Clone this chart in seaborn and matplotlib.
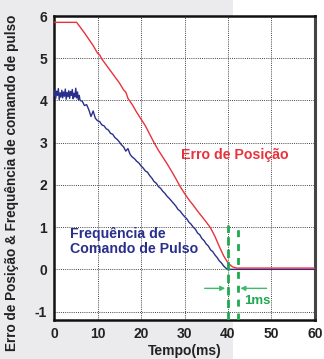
import numpy as np
import pandas as pd
import matplotlib
matplotlib.use("Agg")
import matplotlib.pyplot as plt
import seaborn as sns
from matplotlib.patches import Rectangle

# ---- data ----
red_t = [0, 5.2, 6, 7, 8, 9, 10, 10.5, 11, 12, 13, 14, 15, 16, 16.5, 17, 18, 19, 20, 21, 22,
         23, 24, 25, 26, 27, 28, 29, 30, 31, 32, 33, 34, 35, 36, 37, 38, 39, 40, 41, 42, 60]
red_v = [5.85, 5.85, 5.74, 5.60, 5.45, 5.30, 5.12, 5.08, 4.98, 4.84, 4.70, 4.56, 4.42, 4.25, 4.20,
         4.05, 3.90, 3.72, 3.56, 3.40, 3.20, 3.00, 2.82, 2.66, 2.50, 2.33, 2.15, 1.96, 1.80, 1.65,
         1.52, 1.38, 1.25, 1.12, 0.98, 0.78, 0.54, 0.32, 0.15, 0.06, 0.03, 0.03]

blue_t = [0.0, 0.2, 0.4, 0.6, 0.8, 1.0, 1.2, 1.4, 1.6, 1.8, 2.0, 2.2, 2.4, 2.6, 2.8, 3.0, 3.2, 3.4,
          3.6, 3.8, 4.0, 4.2, 4.4, 4.6, 4.8, 5.0, 5.2, 5.4, 5.6, 5.8,
          6.0, 6.5, 7.0, 7.5, 8.0, 8.5, 9.0, 9.5, 10.0, 10.5, 11.0, 11.5, 12.0, 12.5, 13.0, 13.5,
          14.0, 14.5, 15.0, 15.5, 16.0, 16.5, 17.0, 17.5, 18.0, 18.5, 19.0, 19.5, 20.0, 20.5,
          21.0, 21.5, 22.0, 22.5, 23.0, 23.5, 24.0, 24.5, 25.0, 25.5, 26.0, 26.5, 27.0, 27.5,
          28.0, 28.5, 29.0, 29.5, 30.0, 30.5, 31.0, 31.5, 32.0, 32.5, 33.0, 33.5, 34.0, 34.5,
          35.0, 35.5, 36.0, 36.5, 37.0, 37.5, 38.0, 38.5, 39.0, 39.5, 40.0, 60.0]
blue_v = [4.10, 4.25, 4.05, 4.22, 4.12, 4.28, 4.02, 4.18, 4.08, 4.24, 4.06, 4.20, 4.10, 4.27, 4.03,
          4.19, 4.09, 4.23, 4.05, 4.21, 4.12, 4.26, 4.04, 4.17, 4.08, 4.29, 4.06, 4.20, 4.02, 4.12,
          4.00, 3.98, 3.88, 3.90, 3.78, 3.62, 3.75, 3.58, 3.52, 3.50, 3.42, 3.40, 3.33, 3.30, 3.22,
          3.20, 3.12, 3.08, 3.02, 2.95, 2.90, 2.80, 2.86, 2.72, 2.66, 2.62, 2.56, 2.52, 2.45, 2.40,
          2.33, 2.30, 2.22, 2.16, 2.08, 2.04, 1.96, 1.92, 1.85, 1.80, 1.73, 1.68, 1.62, 1.56, 1.50,
          1.42, 1.38, 1.31, 1.25, 1.20, 1.12, 1.07, 1.00, 0.95, 0.86, 0.82, 0.73, 0.68, 0.60, 0.55,
          0.46, 0.42, 0.34, 0.28, 0.20, 0.15, 0.08, 0.03, 0.00, 0.00]

x_ticks = [0, 10, 20, 30, 40, 50, 60]
y_ticks = [-1, 0, 1, 2, 3, 4, 5, 6]
marker_times = [40.0, 42.2]

red_df = pd.DataFrame({"t": red_t, "v": red_v})
blue_df = pd.DataFrame({"t": blue_t, "v": blue_v})

sns.set_style("white")
plt.rcParams["font.family"] = ["Liberation Sans", "DejaVu Sans"]

fig = plt.figure(figsize=(3.24, 3.59), dpi=100, facecolor="#ebebed")
fig.patches.append(Rectangle((0.719, 0), 0.281, 1, transform=fig.transFigure,
                             facecolor="white", edgecolor="none", zorder=-10))
ax = fig.add_axes([0.1667, 0.1086, 0.8055, 0.8468])
ax.set_zorder(1)
ax.set_facecolor("white")

sns.lineplot(data=blue_df, x="t", y="v", ax=ax, color="#2a2f8c", linewidth=1.0,
             estimator=None, sort=False, zorder=3)
sns.lineplot(data=red_df, x="t", y="v", ax=ax, color="#e8323c", linewidth=1.0,
             estimator=None, sort=False, zorder=4)

ax.set_xlim(0, 60)
ax.set_ylim(-1.2, 6)
ax.set_xticks(x_ticks)
ax.set_yticks(y_ticks)
ax.set_xticklabels([str(v) for v in x_ticks], fontsize=10, fontweight="bold", color="#222222")
ax.set_yticklabels([str(v) for v in y_ticks], fontsize=10, fontweight="bold", color="#222222")
ax.tick_params(length=0, pad=5)
ax.grid(True, linestyle=(0, (1, 1.2)), color="#444444", linewidth=0.7)

for side in ["left", "bottom", "top"]:
    ax.spines[side].set_color("#111111")
    ax.spines[side].set_linewidth(1.8)
ax.spines["right"].set_color("#444444")
ax.spines["right"].set_linewidth(2.2)

ax.set_xlabel("Tempo(ms)", fontsize=10, fontweight="bold", color="#222222", labelpad=2)
ax.set_ylabel("Erro de Posição & Frequência de comando de pulso", fontsize=9.8,
              fontweight="bold", color="#222222", labelpad=3)
ax.yaxis.set_label_coords(-0.135, 0.45)

green = "#1fa84f"
for mt, ls in zip(marker_times, [(0, (3, 1.5)), (0, (2.5, 2.5))]):
    ax.plot([mt, mt], [-1.2, 1.05], color=green, linestyle=ls, linewidth=2.0, zorder=5)

arrow_c = "#3dbb6c"
ax.annotate("", xy=(40, -0.45), xytext=(34, -0.45),
            arrowprops=dict(arrowstyle="-|>", color=arrow_c, lw=1.0, mutation_scale=7))
ax.annotate("", xy=(42.2, -0.45), xytext=(49.5, -0.45),
            arrowprops=dict(arrowstyle="-|>", color=arrow_c, lw=1.0, mutation_scale=7))
ax.text(43.6, -0.74, "1ms", color=green, fontsize=9.5, fontweight="bold", va="center")

ax.text(29.2, 2.72, "Erro de Posição", color="#e8323c", fontsize=10.2, fontweight="bold",
        va="center")
ax.text(3.6, 0.66, "Frequência de\nComando de Pulso", color="#2a2f8c", fontsize=10.2,
        fontweight="bold", va="center", linespacing=1.1)

fig.savefig("out.png", dpi=100, facecolor=fig.get_facecolor())
